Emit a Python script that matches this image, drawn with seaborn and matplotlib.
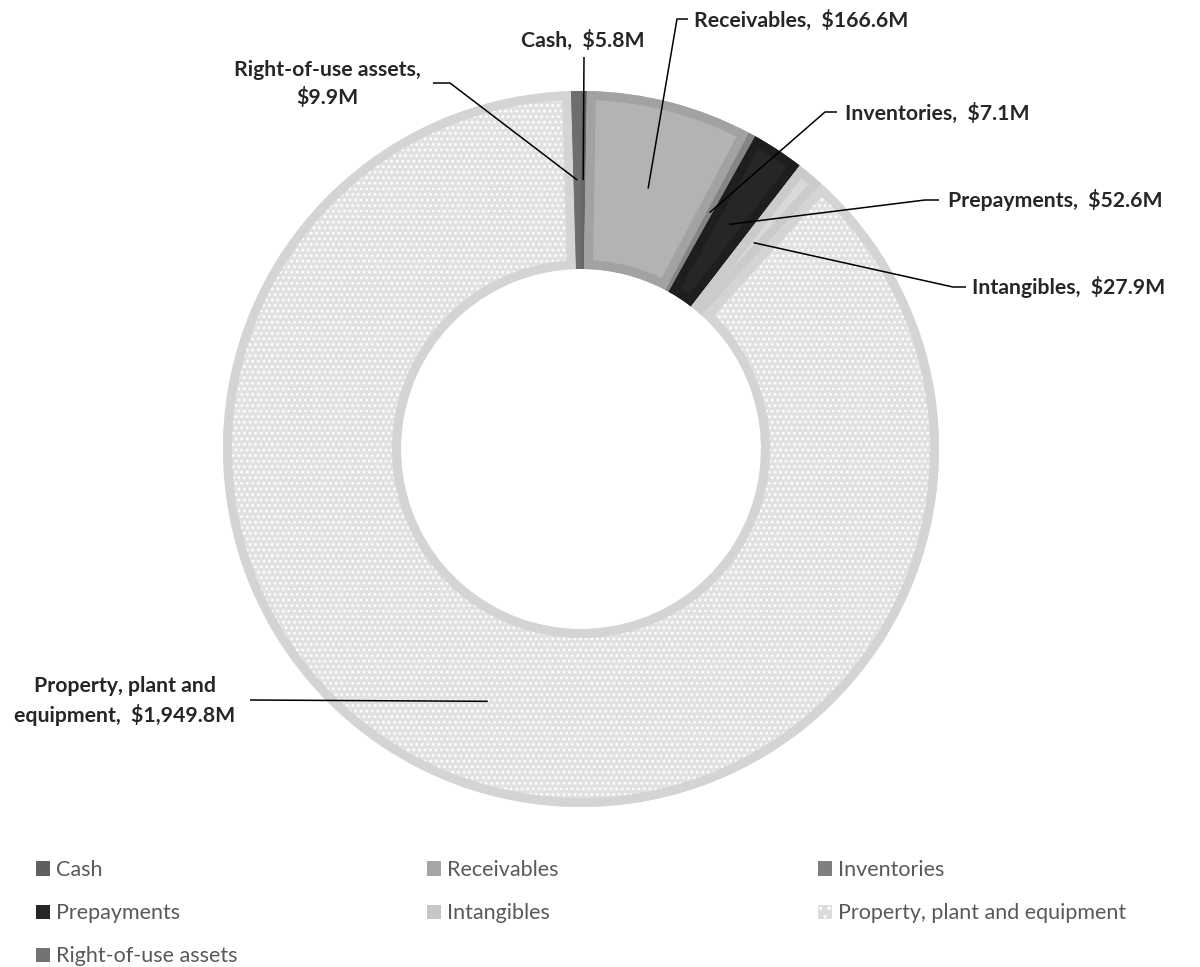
import matplotlib
matplotlib.use("Agg")
import matplotlib.pyplot as plt
from matplotlib.patches import Wedge, Patch
import numpy as np
import seaborn as sns

# Asset composition ($ millions)
categories = ["Cash", "Receivables", "Inventories", "Prepayments", "Intangibles",
              "Property, plant and equipment", "Right-of-use assets"]
values = [5.8, 166.6, 7.1, 52.6, 27.9, 1949.8, 9.9]
label_names = ["Cash", "Receivables", "Inventories", "Prepayments", "Intangibles",
               "Property, plant and\nequipment", "Right-of-use assets"]
label_seps = ["  ", "  ", "  ", "  ", "  ", "  ", "\n"]

# Styling
fill_colors = ["#6e6e6e", "#b3b3b3", "#8a8a8a", "#262626", "#d9d9d9", "#e1e1e1", "#767676"]
border_colors = ["#666666", "#a2a2a2", "#858585", "#1e1e1e", "#cbcbcb", "#d4d4d4", "#6e6e6e"]
legend_colors = ["#5f5f5f", "#a5a5a5", "#7f7f7f", "#262626", "#c6c6c6", "#dcdcdc", "#737373"]

sns.set_theme(style="white")
plt.rcParams["font.family"] = ["Lato", "DejaVu Sans"]
plt.rcParams["hatch.linewidth"] = 1.2

W, H = 1200, 967
fig = plt.figure(figsize=(W / 100, H / 100), dpi=100)
ax = fig.add_axes([0, 0, 1, 1])


def px(x, y):
    """Pixel position measured from the top-left corner -> data coords."""
    return x, H - y


cx, cy = px(581, 449)
R_OUT, RING = 358, 178

wedges, _ = ax.pie(values, colors=fill_colors, startangle=90, counterclock=False,
                   center=(cx, cy), radius=R_OUT,
                   wedgeprops=dict(width=RING, linewidth=0))
ax.set_xlim(0, W)
ax.set_ylim(0, H)
ax.set_aspect("auto")
ax.axis("off")

# Textured fill for property, plant and equipment
ppe = wedges[5]
ppe.set_edgecolor("white")
ppe.set_hatch("...")
if hasattr(ppe, "set_hatchcolor"):
    ppe.set_hatchcolor("white")

# Inner border on every slice
for w, ec in zip(wedges, border_colors):
    b = Wedge(w.center, w.r, w.theta1, w.theta2, width=w.width,
              facecolor="none", edgecolor=ec, linewidth=13,
              zorder=w.get_zorder() + 0.1)
    ax.add_patch(b)
    b.set_clip_path(w)

# Data labels with leader lines
label_layout = {
    "Cash": dict(xy=(583, 40), ha="center", path=[(584, 57)]),
    "Receivables": dict(xy=(694, 20), ha="left", path=[(688, 19), (677, 19)]),
    "Inventories": dict(xy=(845, 113), ha="left", path=[(837, 112), (825, 112)]),
    "Prepayments": dict(xy=(948, 200), ha="left", path=[(939, 200), (925, 200)]),
    "Intangibles": dict(xy=(972, 287), ha="left", path=[(966, 287), (953, 287)]),
    "Property, plant and equipment": dict(xy=(125, 701), ha="center", path=[(250, 700)]),
    "Right-of-use assets": dict(xy=(327, 84), ha="center", path=[(433, 83), (450, 83)]),
}

for w, cat, name, sep, v in zip(wedges, categories, label_names, label_seps, values):
    lay = label_layout[cat]
    th = np.deg2rad((w.theta1 + w.theta2) / 2)
    rm = w.r - w.width / 2
    anchor = (w.center[0] + rm * np.cos(th), w.center[1] + rm * np.sin(th))
    pts = [px(*p) for p in lay["path"]] + [anchor]
    ax.plot([p[0] for p in pts], [p[1] for p in pts], color="black", lw=1.1,
            solid_capstyle="butt", zorder=5)
    tx, ty = px(*lay["xy"])
    ax.text(tx, ty, f"{name},{sep}${v:,.1f}M", ha=lay["ha"], va="center",
            multialignment="center", fontsize=15.3, fontweight="bold",
            color="#262626", linespacing=1.45, zorder=6)

# Legend: three columns, filled row by row
handles = []
for i, c in enumerate(legend_colors):
    if i == 5:
        handles.append(Patch(facecolor=c, edgecolor="white", hatch="..", linewidth=0))
    else:
        handles.append(Patch(facecolor=c, edgecolor="none", linewidth=0))

col_x = [36, 427, 818]
legend_top = 860
for col in range(3):
    idx = list(range(col, len(categories), 3))
    fig.legend([handles[i] for i in idx], [categories[i] for i in idx],
               loc="upper left",
               bbox_to_anchor=(col_x[col] / W, 1 - legend_top / H),
               frameon=False, borderpad=0, borderaxespad=0,
               handlelength=0.65, handleheight=0.65, handletextpad=0.3,
               labelspacing=1.08, fontsize=15.5, labelcolor="#595959")

fig.savefig("out.png", dpi=100, facecolor="white")
